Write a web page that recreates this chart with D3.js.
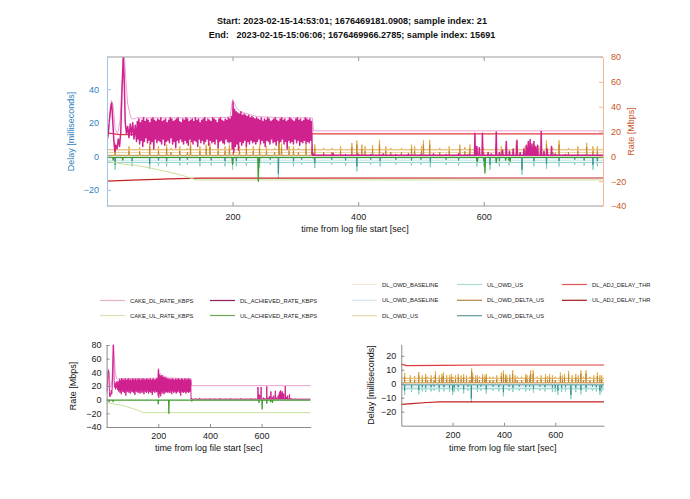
<!DOCTYPE html>
<html><head><meta charset="utf-8">
<script src="https://cdn.jsdelivr.net/npm/d3@7"></script>
<style>
body{margin:0;background:#fff}
text{font-family:"Liberation Sans",Arial,Helvetica,sans-serif}
</style>
</head><body>
<svg id="c" width="690" height="499"></svg>
<script>
// ---------------- DATA ----------------
const titleLines = [
  "Start: 2023-02-15-14:53:01; 1676469181.0908; sample index: 21",
  "End:   2023-02-15-15:06:06; 1676469966.2785; sample index: 15691"
];
const xTicks = [200, 400, 600];
const topDelayTicks = [-20, 0, 20, 40];
const rateTicks = [-40, -20, 0, 20, 40, 60, 80];
const bottomDelayTicks = [-20, -10, 0, 10, 20];
const xLabel = "time from log file start [sec]";

const legendRates = ["CAKE_DL_RATE_KBPS", "DL_ACHIEVED_RATE_KBPS", "CAKE_UL_RATE_KBPS", "UL_ACHIEVED_RATE_KBPS"];
const legendDelays = ["DL_OWD_BASELINE", "UL_OWD_BASELINE", "DL_OWD_US", "UL_OWD_US", "DL_OWD_DELTA_US", "UL_OWD_DELTA_US", "DL_ADJ_DELAY_THR", "UL_ADJ_DELAY_THR"];

// CAKE_DL_RATE (sec, Mbps)
const cakeDlT = [0, 3, 7, 10, 13, 17, 21, 24, 26, 28, 30, 33, 38, 42, 47, 100, 150, 196, 200, 205, 212, 225, 240, 280, 327, 329, 790];
const cakeDlV = [10, 25, 45, 40, 22, 18, 30, 60, 82, 78, 62, 42, 31, 30, 31, 31, 31, 31.5, 46, 40, 36, 34, 32, 31, 31, 20.5, 20.5];

// DL_ACHIEVED_RATE early part (sec, Mbps)
const dlEarlyT = [0, 2, 4, 6, 7.5, 9, 11, 12.5, 14, 16, 18, 20, 22, 24, 26, 27.5, 29, 31, 33, 35, 37, 39, 41, 43, 45];
const dlEarlyV = [12, 18, 30, 40, 43, 30, 12, 4, 9, 6, 14, 8, 20, 55, 80, 60, 28, 18, 24, 15, 26, 17, 27, 14, 25];
// DL_ACHIEVED_RATE oscillating band, samples every 2.5 s from 47 s: highs and lows (Mbps)
const dlBandStart = 47, dlBandStep = 2.5;
const dlBandHi = [28,30,27,29,31,28,30,29,27,30,31,29,28,30,29,31,28,29,30,27,29,31,30,28,29,30,31,28,27,30,29,31,30,28,29,30,28,31,29,30,27,29,30,31,28,30,29,28,31,30,29,27,30,31,29,28,30,29,31,30,
  32,44,38,36,35,34,36,33,34,33,32,33,31,32,31,30,31,
  30,29,31,28,30,29,31,30,28,29,30,31,29,28,30,31,29,30,28,29,31,30,29,28,30,31,29,30,28,29,31,30,29,30,28];
const dlBandLo = [12,14,10,13,8,12,15,11,13,10,12,6,14,11,13,12,10,14,9,12,13,11,15,10,12,7,13,11,14,12,10,13,11,9,14,12,10,13,12,8,14,11,13,10,12,14,9,13,11,12,10,14,7,12,13,11,10,14,12,11,
  12,6,3,8,10,5,12,9,11,13,8,12,10,13,11,12,10,
  12,14,10,13,11,8,13,12,10,14,11,12,9,13,11,12,14,10,12,6,13,11,12,10,14,11,13,9,12,11,13,10,12,11,13];
// DL_ACHIEVED_RATE after the load ends: base level and spikes (sec, Mbps)
const dlTailBase = 0.8;
const dlTailT = [328, 345, 360, 380, 400, 420, 440, 460, 480, 500, 520, 540, 560, 575, 586, 589, 593, 598, 607, 612, 620, 625, 630, 636, 641, 647, 653, 658, 664, 668, 671, 674, 677, 680, 683, 686, 691.6, 696, 701, 708, 714, 730];
const dlTailV = [2.5, 1.5, 2.5, 1.5, 1.8, 1.5, 2, 1.5, 2, 1.5, 2, 1.5, 2, 1.5, 18.5, 8, 7, 18.5, 3, 2, 19.5, 3, 5, 12, 4, 6, 13, 3, 6, 9, 12, 13.5, 10, 12, 8, 9, 20, 4, 6, 8, 2, 1.5];

// CAKE_UL_RATE (sec, Mbps, plotted negative)
const cakeUlT = [0, 25, 45, 68, 95, 121, 142, 790];
const cakeUlV = [-4, -6.2, -7.2, -9.3, -12.3, -15.5, -19, -19];

// UL_ACHIEVED_RATE: base level and spikes (sec, Mbps)
const ulAchBase = -0.8;
const ulAchT = [10, 25, 200, 241, 330, 590, 602, 620, 635, 642];
const ulAchV = [-3, -3, -6, -20, -2, -4, -13.5, -5, -3, -4];

// Delay levels (ms)
const dlOwdBaseline = 2.3;
const ulOwdBaseline = -2.3;
const dlOwdLevel = 3.9;
const dlDeltaLevel = 0.6;
const ulOwdLevel = -3.6;
const ulDeltaLevel = -0.8;

// DL OWD spikes: time, DL_OWD_US peak, DL_OWD_DELTA_US peak (ms)
const dlSpikeT = [13,35,52,68,82,95,102,116,128,133,148,158,164,177,188,195,201,211,222,233,243,254,267,274,278,290,297,305,317,326,331,345,358,372,390,398,406,411,423,434,444,452,469,485,490,501,504,514,530,545,562,570,578,589,600,620,628,636,652,666,680,690,700,710,720,735,750,764,774,781];
const dlUsPeak = [7.8,6,5.5,8.4,6,7,5,6,5,9,6,7,8,6,6,7,5,6,7,6,7,6,5,11,7.8,6,6,5,7,6,7,5,5,6,8,9.4,7,6,6.5,9.8,6,5,5,7,6,6,9.5,9.8,5,6,7,5.5,7,6,5,8,6,7,9,6,7,6,9.5,5,9.5,5,6,8,6,6];
const dlDeltaPeak = [5,3.5,3,6,3.5,4.5,2.5,3.5,2.5,6.5,3.5,4.5,5.5,3.5,3.5,4.5,2.5,3.5,4.5,3.5,4.5,3.5,2.5,9,5,3.5,3.5,2.5,4.5,3.5,4.5,2.5,2.5,3.5,5.5,7,4.5,3.5,4,7,3.5,2.5,2.5,4.5,3.5,3.5,7,7,2.5,3.5,4.5,3,4.5,3.5,2.5,5.5,3.5,4.5,6.5,3.5,4.5,3.5,7,2.5,7,2.5,3.5,5.5,3.5,3.5];

// UL OWD spikes: time, UL_OWD_US peak, UL_OWD_DELTA_US peak (ms, plotted negative)
const ulSpikeT = [13,40,68,82,95,116,128,148,166,188,200,206,222,243,260,273,297,310,331,358,380,398,420,435,460,485,500,515,540,560,589,600,610,625,640,661,680,700,720,745,760,774,781];
const ulUsPeak = [-8,-6,-7.5,-5.5,-6,-5.5,-5,-6,-5.5,-6,-8,-6,-5.5,-7,-5,-13.5,-6,-5,-7,-5,-5.5,-9,-5,-6,-5,-5.5,-5,-6.5,-5,-5.5,-6,-6,-8,-6,-5.5,-11,-6,-7.6,-6,-5,-5.5,-8,-6];
const ulDeltaPeak = [-5,-3,-4.5,-2.5,-3,-2.5,-2,-3,-2.5,-3,-5,-3,-2.5,-4,-2,-10.5,-3,-2,-4,-2,-2.5,-6,-2,-3,-2,-2.5,-2,-3.5,-2,-2.5,-3,-3,-5,-3,-2.5,-8,-3,-4.5,-3,-2,-2.5,-5,-3];

// Delay thresholds (sec, ms)
const dlThrT = [0, 20, 150, 330, 790];
const dlThrV = [14.0, 12.9, 13.1, 13.4, 13.4];
const ulThrT = [0, 40, 100, 150, 790];
const ulThrV = [-14.8, -14.2, -13.4, -13.0, -12.9];

// ---------------- STYLES ----------------
const C = {
  cakeDl: "#eba2d4", dlAch: "#d0228f", cakeUl: "#c9e19d", ulAch: "#3f9a2c",
  dlBase: "#e4d6a2", ulBase: "#c4e2ea", dlUs: "#e2ad4e", ulUs: "#86cfc4",
  dlDelta: "#c08838", ulDelta: "#3d9190", dlThr: "#e03a3a", ulThr: "#c42222"
};
const legendColor = {
  "CAKE_DL_RATE_KBPS": "#e2b2cc", "DL_ACHIEVED_RATE_KBPS": "#931c5e",
  "CAKE_UL_RATE_KBPS": "#d4e4b4", "UL_ACHIEVED_RATE_KBPS": "#6ea65a",
  "DL_OWD_BASELINE": "#f0ead6", "UL_OWD_BASELINE": "#d6e8ec", "DL_OWD_US": "#e8d6ae",
  "UL_OWD_US": "#a8dcd4", "DL_OWD_DELTA_US": "#b08448", "UL_OWD_DELTA_US": "#5f9a9a",
  "DL_ADJ_DELAY_THR": "#e05555", "UL_ADJ_DELAY_THR": "#a41818"
};

// ---------------- HELPERS ----------------
const zip = (T, V) => T.map((t, i) => [t, V[i]]);
function spikes(base, T, V, t0, t1, w) {
  const pts = [[t0, base]];
  T.forEach((t, i) => { pts.push([t - w, base], [t, V[i]], [t + w, base]); });
  pts.push([t1, base]);
  return pts;
}
const dlAchPts = (() => {
  const pts = zip(dlEarlyT, dlEarlyV);
  dlBandHi.forEach((h, i) => {
    const t = dlBandStart + i * dlBandStep;
    pts.push([t, dlBandLo[i]], [t + dlBandStep / 2, h]);
  });
  const tail = spikes(dlTailBase, dlTailT, dlTailV, 327, 790, 0.7);
  return pts.concat(tail);
})();

const svg = d3.select("#c");

// ---------------- TITLE ----------------
svg.append("g").selectAll("text").data(titleLines).join("text")
  .attr("x", 352).attr("y", (d, i) => 24 + i * 14)
  .attr("text-anchor", "middle").attr("font-size", 9.1).attr("font-weight", "bold")
  .attr("fill", "#111").style("white-space", "pre").text(d => d);

// ---------------- TOP CHART ----------------
const T = {x0: 107, x1: 603, y0: 57, y1: 206};
const xT = d3.scaleLinear([0, 790], [T.x0, T.x1]);
const yDelay = d3.scaleLinear([-29.6, 59.2], [T.y1, T.y0]);
const yRate = d3.scaleLinear([-40, 80], [T.y1, T.y0]);

svg.append("clipPath").attr("id", "clipT").append("rect")
  .attr("x", T.x0).attr("y", T.y0).attr("width", T.x1 - T.x0).attr("height", T.y1 - T.y0);

function drawSeries(g, pts, x, y, color, width) {
  g.append("path").attr("d", d3.line().x(d => x(d[0])).y(d => y(d[1]))(pts))
    .attr("fill", "none").attr("stroke", color).attr("stroke-width", width)
    .attr("stroke-linejoin", "round");
}
function delaySeries(g, x, y) {
  drawSeries(g, [[0, dlOwdBaseline], [790, dlOwdBaseline]], x, y, C.dlBase, 1);
  drawSeries(g, [[0, ulOwdBaseline], [790, ulOwdBaseline]], x, y, C.ulBase, 1);
  drawSeries(g, spikes(dlOwdLevel, dlSpikeT, dlUsPeak, 0, 790, 0.6), x, y, C.dlUs, 1);
  drawSeries(g, spikes(ulOwdLevel, ulSpikeT, ulUsPeak, 0, 790, 0.6), x, y, C.ulUs, 1);
  drawSeries(g, spikes(dlDeltaLevel, dlSpikeT, dlDeltaPeak, 0, 790, 0.6), x, y, C.dlDelta, 1);
  drawSeries(g, spikes(ulDeltaLevel, ulSpikeT, ulDeltaPeak, 0, 790, 0.6), x, y, C.ulDelta, 1);
  drawSeries(g, zip(dlThrT, dlThrV), x, y, C.dlThr, 1.2);
  drawSeries(g, zip(ulThrT, ulThrV), x, y, C.ulThr, 1.2);
}
function rateSeries(g, x, y, achW) {
  drawSeries(g, zip(cakeDlT, cakeDlV), x, y, C.cakeDl, 1);
  drawSeries(g, zip(cakeUlT, cakeUlV), x, y, C.cakeUl, 1);
  drawSeries(g, dlAchPts, x, y, C.dlAch, achW);
  drawSeries(g, spikes(ulAchBase, ulAchT, ulAchV, 0, 790, 0.8), x, y, C.ulAch, 1.3);
}

const gT = svg.append("g").attr("clip-path", "url(#clipT)");
delaySeries(gT, xT, yDelay);
rateSeries(gT, xT, yRate, 1.5);

// frame
svg.append("line").attr("x1", T.x0).attr("x2", T.x1).attr("y1", T.y0).attr("y2", T.y0).attr("stroke", "#9a9a9a");
svg.append("line").attr("x1", T.x0).attr("x2", T.x1).attr("y1", T.y1).attr("y2", T.y1).attr("stroke", "#9a9a9a");

function styleAxis(g, lineColor, textColor, fs) {
  g.select(".domain").attr("stroke", lineColor);
  g.selectAll(".tick line").attr("stroke", lineColor);
  g.selectAll(".tick text").attr("fill", textColor).attr("font-size", fs)
    .attr("font-family", '"Liberation Sans",Arial,sans-serif');
}
const axB = svg.append("g").attr("transform", `translate(0,${T.y1})`)
  .call(d3.axisBottom(xT).tickValues(xTicks).tickSizeInner(-4).tickSizeOuter(0).tickPadding(8));
styleAxis(axB, "#9a9a9a", "#222", 9);
axB.select(".domain").remove();
const axTop = svg.append("g").attr("transform", `translate(0,${T.y0})`)
  .call(d3.axisTop(xT).tickValues(xTicks).tickSizeInner(-4).tickSizeOuter(0).tickFormat(""));
styleAxis(axTop, "#9a9a9a", "#222", 9);
axTop.select(".domain").remove();
const axL = svg.append("g").attr("transform", `translate(${T.x0},0)`)
  .call(d3.axisLeft(yDelay).tickValues(topDelayTicks).tickSizeInner(-4).tickSizeOuter(0).tickPadding(8));
styleAxis(axL, "#9fc4e2", "#2f7fc0", 9);
const axR = svg.append("g").attr("transform", `translate(${T.x1},0)`)
  .call(d3.axisRight(yRate).tickValues(rateTicks).tickSizeInner(-4).tickSizeOuter(0).tickPadding(8));
styleAxis(axR, "#f2b79a", "#c8561e", 9);

svg.append("text").attr("x", (T.x0 + T.x1) / 2).attr("y", 232).attr("text-anchor", "middle")
  .attr("font-size", 9).attr("fill", "#111").text(xLabel);
svg.append("text").attr("transform", `translate(74,${(T.y0 + T.y1) / 2}) rotate(-90)`)
  .attr("text-anchor", "middle").attr("font-size", 9).attr("fill", "#2f7fc0").text("Delay [milliseconds]");
svg.append("text").attr("transform", `translate(634,${(T.y0 + T.y1) / 2}) rotate(-90)`)
  .attr("text-anchor", "middle").attr("font-size", 9).attr("fill", "#c8561e").text("Rate [Mbps]");

// ---------------- LEGENDS ----------------
function legendItem(name, x, y) {
  const g = svg.append("g");
  g.append("line").attr("x1", x).attr("x2", x + 25).attr("y1", y).attr("y2", y)
    .attr("stroke", legendColor[name]).attr("stroke-width", 1.2);
  g.append("text").attr("x", x + 30).attr("y", y + 2).attr("font-size", 5.8).attr("fill", "#222").text(name);
}
legendItem(legendRates[0], 100, 300.5);
legendItem(legendRates[1], 210, 300.5);
legendItem(legendRates[2], 100, 315.5);
legendItem(legendRates[3], 210, 315.5);
const dlx = [352, 457, 562], dly = [284.5, 300.3, 315.7];
legendDelays.forEach((n, i) => legendItem(n, dlx[Math.floor(i / 3)], dly[i % 3]));

// ---------------- BOTTOM LEFT (rates) ----------------
const BL = {x0: 106.6, x1: 310.7, y0: 345, y1: 427};
const xBL = d3.scaleLinear([0, 790], [BL.x0, BL.x1]);
const yBL = d3.scaleLinear([-40, 80], [BL.y1, BL.y0]);
svg.append("clipPath").attr("id", "clipBL").append("rect")
  .attr("x", BL.x0).attr("y", BL.y0 - 1).attr("width", BL.x1 - BL.x0).attr("height", BL.y1 - BL.y0 + 1);
const gBL = svg.append("g").attr("clip-path", "url(#clipBL)");
rateSeries(gBL, xBL, yBL, 1);
const blx = svg.append("g").attr("transform", `translate(0,${BL.y1})`)
  .call(d3.axisBottom(xBL).tickValues(xTicks).tickSizeInner(-3).tickSizeOuter(0).tickPadding(6));
styleAxis(blx, "#8a8a8a", "#222", 9);
const bly = svg.append("g").attr("transform", `translate(${BL.x0},0)`)
  .call(d3.axisLeft(yBL).tickValues(rateTicks).tickSizeInner(-3).tickSizeOuter(0).tickPadding(5));
styleAxis(bly, "#8a8a8a", "#222", 9);
svg.append("text").attr("x", (BL.x0 + BL.x1) / 2).attr("y", 451).attr("text-anchor", "middle")
  .attr("font-size", 9).attr("fill", "#111").text(xLabel);
svg.append("text").attr("transform", `translate(76,${(BL.y0 + BL.y1) / 2}) rotate(-90)`)
  .attr("text-anchor", "middle").attr("font-size", 9).attr("fill", "#111").text("Rate [Mbps]");

// ---------------- BOTTOM RIGHT (delays) ----------------
const BR = {x0: 401.3, x1: 604, y0: 344.3, y1: 425.7};
const xBR = d3.scaleLinear([0, 790], [BR.x0, BR.x1]);
const yBR = d3.scaleLinear([-30, 28.2], [BR.y1, BR.y0]);
svg.append("clipPath").attr("id", "clipBR").append("rect")
  .attr("x", BR.x0).attr("y", BR.y0).attr("width", BR.x1 - BR.x0).attr("height", BR.y1 - BR.y0);
const gBR = svg.append("g").attr("clip-path", "url(#clipBR)");
delaySeries(gBR, xBR, yBR);
const brx = svg.append("g").attr("transform", `translate(0,${BR.y1})`)
  .call(d3.axisBottom(xBR).tickValues(xTicks).tickSizeInner(-3).tickSizeOuter(0).tickPadding(6));
styleAxis(brx, "#8a8a8a", "#222", 9);
const bry = svg.append("g").attr("transform", `translate(${BR.x0},0)`)
  .call(d3.axisLeft(yBR).tickValues(bottomDelayTicks).tickSizeInner(-3).tickSizeOuter(0).tickPadding(5));
styleAxis(bry, "#8a8a8a", "#222", 9);
svg.append("text").attr("x", (BR.x0 + BR.x1) / 2).attr("y", 451).attr("text-anchor", "middle")
  .attr("font-size", 9).attr("fill", "#111").text(xLabel);
svg.append("text").attr("transform", `translate(374,${(BR.y0 + BR.y1) / 2}) rotate(-90)`)
  .attr("text-anchor", "middle").attr("font-size", 9).attr("fill", "#111").text("Delay [milliseconds]");
</script>
</body></html>
